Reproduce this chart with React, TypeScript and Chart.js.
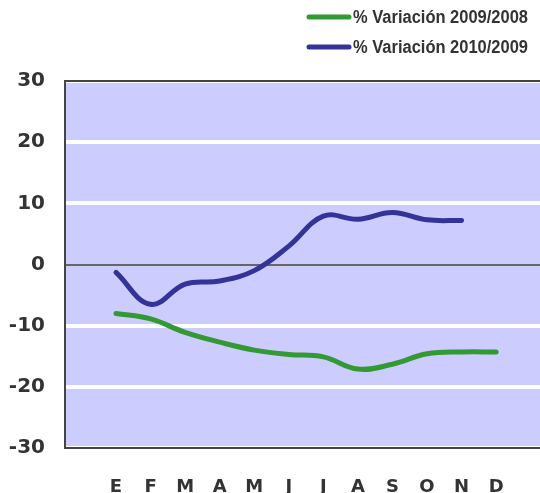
import React, { useEffect, useRef } from "react";
import { Chart, registerables } from "chart.js";

Chart.register(...registerables);

const MONTHS = ["E", "F", "M", "A", "M", "J", "J", "A", "S", "O", "N", "D"];
const SERIES_2009_2008 = [-8.0, -8.9, -11.1, -12.7, -14.0, -14.7, -15.1, -17.1, -16.3, -14.6, -14.3, -14.3];
const SERIES_2010_2009 = [-1.3, -6.5, -3.2, -2.7, -1.0, 3.0, 7.9, 7.4, 8.5, 7.3, 7.2];
const Y_TICKS = [-30, -20, -10, 0, 10, 20, 30];
const LABELS = ["% Variación 2009/2008", "% Variación 2010/2009"];
const COLORS = ["#339933", "#333399"];

const W = 540;
const H = 493;

const bgPlugin = {
  id: "plotBg",
  beforeDraw(chart: any) {
    const { ctx, chartArea: a } = chart;
    ctx.save();
    ctx.fillStyle = "#CCCCFF";
    ctx.fillRect(a.left, a.top, a.right - a.left, a.bottom - a.top);
    ctx.restore();
  },
  afterDraw(chart: any) {
    const { ctx, chartArea: a } = chart;
    ctx.save();
    ctx.strokeStyle = "#444444";
    ctx.lineWidth = 2;
    ctx.beginPath();
    ctx.moveTo(W + 2, a.top);
    ctx.lineTo(a.left, a.top);
    ctx.lineTo(a.left, a.bottom);
    ctx.lineTo(W + 2, a.bottom);
    ctx.stroke();
    // legend
    const rows = [17, 47];
    chart.data.datasets.forEach((ds: any, i: number) => {
      const y = rows[i];
      ctx.save();
      ctx.strokeStyle = ds.borderColor;
      ctx.lineWidth = 5;
      ctx.lineCap = "round";
      ctx.beginPath();
      ctx.moveTo(309, y);
      ctx.lineTo(349, y);
      ctx.stroke();
      ctx.fillStyle = "#333333";
      ctx.font = "bold 18px 'Liberation Sans', Arial, sans-serif";
      ctx.textAlign = "left";
      ctx.textBaseline = "middle";
      const w = ctx.measureText(ds.label).width;
      const sx = 175 / w;
      ctx.translate(353, y + 1);
      ctx.scale(sx, 1);
      ctx.fillText(ds.label, 0, 0);
      ctx.restore();
    });
    ctx.restore();
  },
};

export default function App() {
  const ref = useRef<HTMLCanvasElement | null>(null);
  useEffect(() => {
    if (!ref.current) return;
    const chart = new Chart(ref.current, {
      type: "line",
      data: {
        datasets: [
          {
            label: LABELS[0],
            data: SERIES_2009_2008.map((y, i) => ({ x: i, y })),
            borderColor: COLORS[0],
            backgroundColor: COLORS[0],
            borderWidth: 5,
            borderCapStyle: "round",
            pointRadius: 0,
            tension: 0.4,
          },
          {
            label: LABELS[1],
            data: SERIES_2010_2009.map((y, i) => ({ x: i, y })),
            borderColor: COLORS[1],
            backgroundColor: COLORS[1],
            borderWidth: 5,
            borderCapStyle: "round",
            pointRadius: 0,
            tension: 0.4,
          },
        ],
      },
      options: {
        animation: false,
        responsive: false,
        layout: { padding: { top: 81, left: 0, right: 0, bottom: 0 } },
        plugins: { legend: { display: false }, tooltip: { enabled: false } },
        scales: {
          x: {
            type: "linear",
            min: -1.476,
            max: 12.27,
            afterBuildTicks: (scale: any) => {
              scale.ticks = MONTHS.map((_, i) => ({ value: i }));
            },
            afterFit: (scale: any) => {
              scale.height = 45;
            },
            grid: { display: false, drawTicks: false },
            border: { display: false },
            ticks: {
              autoSkip: false,
              maxRotation: 0,
              padding: 29,
              color: "#333333",
              font: { family: "'DejaVu Sans', sans-serif", weight: "bold", size: 18 },
              callback: (v: any) => MONTHS[v as number] ?? "",
            },
          },
          y: {
            min: -30,
            max: 30,
            afterBuildTicks: (scale: any) => {
              scale.ticks = Y_TICKS.map((v) => ({ value: v }));
            },
            afterFit: (scale: any) => {
              scale.width = 65;
            },
            border: { display: false },
            grid: {
              drawTicks: false,
              color: (c: any) => (c.tick && c.tick.value === 0 ? "#666666" : "#FFFFFF"),
              lineWidth: (c: any) => (c.tick && c.tick.value === 0 ? 2 : 4),
            },
            ticks: {
              padding: 20,
              color: "#333333",
              font: { family: "'DejaVu Sans', sans-serif", weight: "bold", size: 20 },
            },
          },
        },
      },
      plugins: [bgPlugin],
    } as any);
    return () => chart.destroy();
  }, []);
  return (
    <div style={{ position: "fixed", left: 0, top: 0, width: W, height: H, background: "#fff" }}>
      <canvas ref={ref} width={W} height={H} style={{ display: "block", width: W, height: H }} />
    </div>
  );
}
